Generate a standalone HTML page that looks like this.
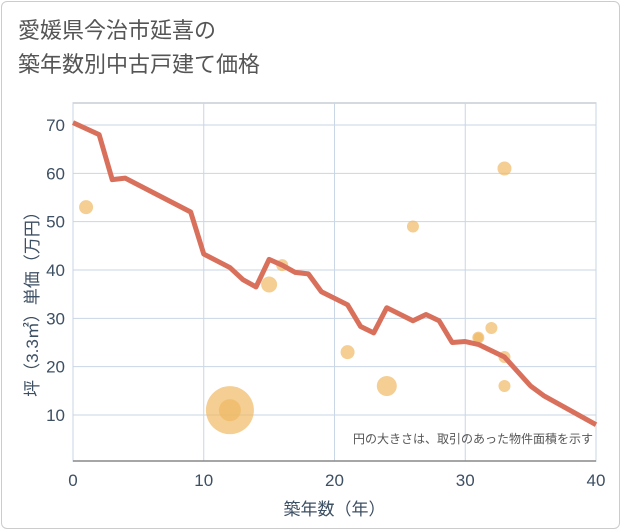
<!DOCTYPE html>
<html><head><meta charset="utf-8"><style>
body{margin:0;background:#fff;font-family:"Liberation Sans","Noto Sans CJK JP",sans-serif;}
#frame{position:absolute;left:1px;top:1px;width:617px;height:526px;border:1px solid #ccc;border-radius:6px;background:#fff;}
#title{position:absolute;left:18px;top:14px;font-size:22px;line-height:34px;color:#555;}
</style></head><body>
<div id="frame"></div>
<div id="title">愛媛県今治市延喜の<br>築年数別中古戸建て価格</div>
<svg id="chart" width="621" height="530" style="position:absolute;left:0;top:0"></svg>
<script>
const xTicks=[0,10,20,30,40];
const yTicks=[10,20,30,40,50,60,70];
const lineX=[0,2,3,4,9,10,12,13,14,15,16,17,18,19,21,22,23,24,26,27,28,29,30,31,33,34,35,36,38,40];
const lineY=[70.5,68,58.7,59,52,43.3,40.5,38,36.5,42.2,41,39.5,39.2,35.5,32.8,28.3,27,32.2,29.5,30.8,29.5,25,25.2,24.6,22,19,16,14,11,8];
const dotX=[1,12,12,15,16,21,24,26,31,31,32,33,33,33];
const dotY=[53,11,11,37,41,23,16,49,26,26,28,22,16,61];
const dotR=[7,24,11,8,6,7,10,6,6,5,6,6,6,7];
const ns="http://www.w3.org/2000/svg";
const svg=document.getElementById('chart');
const L=73,R=596,T=103,B=461;
const sx=v=>L+(v/40)*(R-L);
const sy=v=>415-(v-10)*(290/60);
function mk(t,a){const e=document.createElementNS(ns,t);for(const k in a)e.setAttribute(k,a[k]);svg.appendChild(e);return e;}
const bg=mk('rect',{x:L,y:T,width:R-L,height:B-T,fill:'#fff',stroke:'#aab4c0'});


xTicks.forEach(v=>{
 const g=mk('line',{x1:sx(v),x2:sx(v),y1:T,y2:B,stroke:'#c8d6e6'});
 
 
 const t=mk('text',{x:sx(v),y:B+25,'text-anchor':'middle','font-size':17,fill:'#3d4f63'});
 t.textContent=v;
 
 
});
yTicks.forEach(v=>{
 const g=mk('line',{x1:L,x2:R,y1:sy(v),y2:sy(v),stroke:'#c8d6e6'});
 
 
 const t=mk('text',{x:L-8,y:sy(v)+6,'text-anchor':'end','font-size':17,fill:'#3d4f63'});
 t.textContent=v;
 
 
});
const ax=mk('line',{x1:L,x2:R,y1:B,y2:B,stroke:'#888','stroke-width':1.5});


dotX.forEach((v,i)=>{
 const c=mk('circle',{cx:sx(v),cy:sy(dotY[i]),r:dotR[i],fill:'rgba(240,185,100,0.7)'});
 
 
});
const pl=mk('polyline',{points:lineX.map((v,i)=>sx(v)+','+sy(lineY[i])).join(' '),fill:'none',stroke:'#d9705c','stroke-width':5,'stroke-linejoin':'round'});


const note=mk('text',{x:R-3,y:443,'text-anchor':'end','font-size':12,fill:'#555'});
note.textContent='円の大きさは、取引のあった物件面積を示す';


const xt=mk('text',{x:(L+R)/2,y:515,'text-anchor':'middle','font-size':17,fill:'#3d4f63'});
xt.textContent='築年数（年）';


const yt=mk('text',{x:0,y:0,'text-anchor':'middle','font-size':17,fill:'#3d4f63',transform:'translate(38,300) rotate(-90)'});
yt.textContent='坪（3.3㎡）単価（万円）';


</script>
</body></html>
